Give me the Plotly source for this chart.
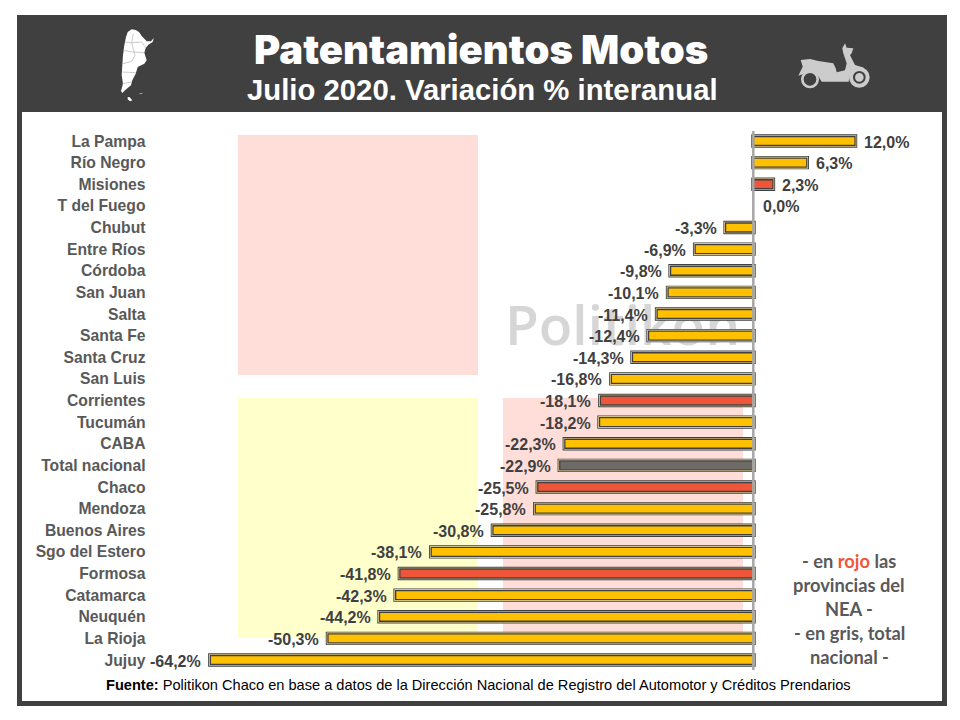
import plotly.graph_objects as go

categories = ["La Pampa","Río Negro","Misiones","T del Fuego","Chubut","Entre Ríos","Córdoba","San Juan","Salta","Santa Fe","Santa Cruz","San Luis","Corrientes","Tucumán","CABA","Total nacional","Chaco","Mendoza","Buenos Aires","Sgo del Estero","Formosa","Catamarca","Neuquén","La Rioja","Jujuy"]
values = [12.0,6.3,2.3,0.0,-3.3,-6.9,-9.8,-10.1,-11.4,-12.4,-14.3,-16.8,-18.1,-18.2,-22.3,-22.9,-25.5,-25.8,-30.8,-38.1,-41.8,-42.3,-44.2,-50.3,-64.2]
nea = ["Misiones","Corrientes","Chaco","Formosa"]
total = ["Total nacional"]

DARK = "#404040"
AMBER = "#FFC000"
RED = "#EF5539"
GRAY = "#6E6A68"
PALE = "#FFE9A8"
# The page has an 8 px body margin: the figure covers 8..952 x 8..712 on screen,
# and the hidden base axes use screen pixels as their units.
PAD = 8
W, H = 944, 704
ZERO_PX, PX_PER_UNIT = 753.5, 8.46
FIRST_PX, ROW_PX = 141.0, 21.625

fills = [RED if c in nea else GRAY if c in total else AMBER for c in categories]
labels = [f"{v:.1f}%".replace(".", ",") for v in values]

fig = go.Figure()

# Watermark text, beneath the bars
fig.add_trace(go.Scatter(x=[622.5], y=[331], mode="text", text=["Politikon"],
                         textposition="middle center", hoverinfo="skip", showlegend=False,
                         textfont=dict(family="Open Sans", size=55, color="#D6D6D6", weight=600),
                         xaxis="x", yaxis="y"))

# Compound bar outline: dark, pale, dark, then the fill
def bars(line_color, lw):
    fig.add_trace(go.Bar(y=categories, x=values, orientation="h", xaxis="x2", yaxis="y2",
                         marker=dict(color=fills, line=dict(color=line_color, width=[0 if v == 0 else lw for v in values])),
                         cliponaxis=False, hoverinfo="skip", showlegend=False))
bars(DARK, 4.4)
bars(PALE, 2.6)
bars(DARK, 1.3)

def rect(x0, y0, x1, y1, color, layer="below"):
    return dict(type="rect", xref="x", yref="y", x0=x0, y0=y0, x1=x1, y1=y1, fillcolor=color, line_width=0, layer=layer)
def circ(cx, cy, r, color):
    return dict(type="circle", xref="x", yref="y", x0=cx-r, x1=cx+r, y0=cy-r, y1=cy+r, fillcolor=color, line_width=0, layer="below")
def poly(pts, ox, oy, color, close=True, lc=None, lw=0):
    d = "M" + " L".join(f"{ox+x/3:.1f},{oy+y/3:.1f}" for x, y in pts) + (" Z" if close else "")
    s = dict(type="path", xref="x", yref="y", path=d, layer="below", line=dict(width=lw, color=lc or color))
    if close: s["fillcolor"] = color
    return s

shapes = [
    rect(17, 15, 947, 706, DARK),
    rect(22, 112, 942, 701, "white"),
    rect(238, 135, 478, 375, "#FFDDD9"),
    rect(238, 398, 478, 638, "#FFFFCC"),
    rect(503, 398, 743, 638, "#FFDDD9"),
    dict(type="line", xref="x", yref="y", x0=753.3, x1=753.3, y0=131, y1=670, line=dict(color="#A6A6A6", width=2.5), layer="above"),
]

# Map of Argentina
MX, MY = 115, 22
shapes += [
    poly([(38,30),(50,22),(62,24),(72,30),(80,42),(95,58),(108,58),(116,48),(113,60),(100,68),(92,78),(88,92),(95,115),(88,125),(68,135),(62,155),(52,175),(48,190),(30,205),(22,213),(18,207),(24,185),(20,160),(22,130),(24,100),(28,70),(33,45)], MX, MY, "white"),
    poly([(38,225),(44,226),(52,235),(45,238),(38,232)], MX, MY, "white"),
    poly([(72,215),(82,212),(82,215),(74,217)], MX, MY, "#BBBBBB"),
    poly([(30,60),(50,62),(80,60),(92,78)], MX, MY, "", False, "#B5B5B5", 0.7),
    poly([(26,85),(50,90),(88,92)], MX, MY, "", False, "#B5B5B5", 0.7),
    poly([(24,125),(50,118),(60,100),(50,62),(55,35)], MX, MY, "", False, "#B5B5B5", 0.7),
    poly([(22,150),(62,152)], MX, MY, "", False, "#B5B5B5", 0.7),
    poly([(22,185),(50,180)], MX, MY, "", False, "#B5B5B5", 0.7),
]

# Scooter icon
SX, SY = 790, 35
SC = "#CCCCCC"
def sc(cx, cy, r, color):
    return circ(SX+cx/3, SY+cy/3, r/3, color)
shapes += [
    sc(60,133,27,SC), sc(60,133,19,DARK),
    sc(208,127,31,SC), sc(208,127,19,DARK), sc(208,127,13,SC),
    poly([(32,75),(60,72),(85,78),(130,85),(137,100),(140,112),(165,106),(170,85),(160,55),(157,40),(165,25),(170,38),(190,40),(185,55),(180,60),(195,90),(222,98),(190,105),(178,125),(176,140),(95,140),(84,122),(62,108),(42,116),(25,122),(38,95)], SX, SY, SC),
]

annotations = []
def note(x, y, text, size, color, family, weight=None, anchor="center"):
    annotations.append(dict(x=x, y=y, xref="x", yref="y", text=text, showarrow=False, xanchor=anchor, yanchor="middle",
                            font=dict(family=family, size=size, color=color, weight=weight)))

note(481, 49, "Patentamientos Motos", 40, "white", "Inter", 900)
note(482, 89, "Julio 2020. Variación % interanual", 29.3, "white", "Liberation Sans", 700)
note(849, 561, f'- en <span style="color:{RED}">rojo</span> las', 18.3, "#595959", "Lato", 700)
note(849, 585, "provincias del", 18.3, "#595959", "Lato", 700)
note(849, 609, "NEA -", 18.3, "#595959", "Lato", 700)
note(849, 633, "- en gris, total", 18.3, "#595959", "Lato", 700)
note(849, 657, "nacional -", 18.3, "#595959", "Lato", 700)
note(104, 685, "<b>Fuente:</b> Politikon Chaco en base a datos de la Dirección Nacional de Registro del Automotor y Créditos Prendarios", 14.6, "black", "Liberation Sans", None, "left")

# Value labels, placed through the chart's own axes
for cat, val, lab in zip(categories, values, labels):
    neg = val < 0
    annotations.append(dict(x=val, y=cat, xref="x2", yref="y2", text=lab, showarrow=False,
                            xanchor="right" if neg else "left", yanchor="middle",
                            xshift=-7 if neg else 7, yshift=-1,
                            font=dict(family="Liberation Sans", size=16, color=DARK, weight="bold")))

fig.update_layout(
    width=W, height=H, margin=dict(l=0, r=0, t=0, b=0),
    paper_bgcolor="white", plot_bgcolor="rgba(0,0,0,0)",
    barmode="overlay", bargap=0.584, showlegend=False,
    xaxis=dict(range=[PAD, PAD+W], visible=False, domain=[0, 1], fixedrange=True),
    yaxis=dict(range=[PAD+H, PAD], visible=False, domain=[0, 1], fixedrange=True),
    xaxis2=dict(overlaying="x", anchor="y2", visible=False, fixedrange=True,
                range=[(PAD-ZERO_PX)/PX_PER_UNIT, (PAD+W-ZERO_PX)/PX_PER_UNIT]),
    yaxis2=dict(overlaying="y", anchor="free", position=(145.5-PAD)/W, side="left", fixedrange=True,
                categoryorder="array", categoryarray=categories,
                range=[(PAD+H-FIRST_PX)/ROW_PX, (PAD-FIRST_PX)/ROW_PX],
                showgrid=False, zeroline=False, showline=False, ticks="",
                tickfont=dict(family="Liberation Sans", size=15.7, color="#595959", weight="bold")),
    shapes=shapes, annotations=annotations,
)
fig.write_html("out.html")
